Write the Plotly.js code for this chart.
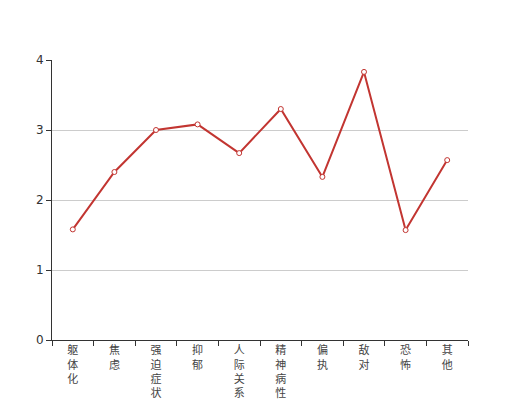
<!DOCTYPE html>
<html>
<head>
<meta charset="utf-8">
<script src="https://cdn.plot.ly/plotly-3.0.1.min.js"></script>
<style>html,body{margin:0;padding:0;background:#fff;}#chart{width:520px;height:400px;}</style>
</head>
<body>
<div id="chart"></div>
<script>
const categories = ["躯体化", "焦虑", "强迫症状", "抑郁", "人际关系敏感", "精神病性", "偏执", "敌对", "恐怖", "其他"];
const values = [1.58, 2.40, 3.00, 3.08, 2.67, 3.30, 2.33, 3.83, 1.57, 2.57];
const yTicks = [0, 1, 2, 3, 4];

const tickText = categories.map(c => c.split("").join("<br>"));

const trace = {
  x: categories,
  y: values,
  type: "scatter",
  mode: "lines+markers",
  line: {color: "#c23531", width: 2},
  marker: {symbol: "circle", size: 5, color: "#ffffff", line: {color: "#c23531", width: 1}},
  hoverinfo: "x+y"
};

const layout = {
  width: 520, height: 400,
  margin: {l: 52, r: 52, t: 60, b: 60},
  paper_bgcolor: "#fff", plot_bgcolor: "#fff",
  showlegend: false,
  font: {family: "'Noto Sans CJK SC', sans-serif", size: 12, color: "#333"},
  xaxis: {
    type: "category",
    tickmode: "array",
    tickvals: categories,
    ticktext: tickText,
    tickson: "boundaries",
    ticks: "outside", ticklen: 5, tickcolor: "#333", tickwidth: 1,
    showline: true, linecolor: "#333", linewidth: 1,
    showgrid: false, zeroline: false,
    tickfont: {size: 11, color: "#444"},
    range: [-0.5, categories.length - 0.5],
    fixedrange: true
  },
  yaxis: {
    range: [0, 4],
    tickmode: "array",
    tickvals: yTicks,
    ticks: "outside", ticklen: 5, tickcolor: "#333", tickwidth: 1,
    showline: true, linecolor: "#333", linewidth: 1,
    showgrid: true, gridcolor: "#ccc", gridwidth: 1,
    zeroline: false,
    tickfont: {size: 12, color: "#333", family: "'DejaVu Sans', sans-serif"},
    fixedrange: true
  }
};

Plotly.newPlot("chart", [trace], layout, {displayModeBar: false, staticPlot: true});
</script>
</body>
</html>
